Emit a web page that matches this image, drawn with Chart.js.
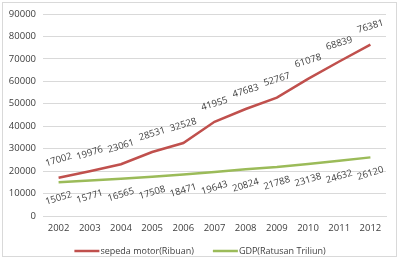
<!DOCTYPE html>
<html>
<head>
<meta charset="utf-8">
<script src="https://cdn.jsdelivr.net/npm/chart.js@4"></script>
<style>
  html, body { margin: 0; padding: 0; background: #fff; }
  #wrap { position: relative; width: 399px; height: 259px; }
  #frame { position: absolute; left: 2px; top: 2px; width: 393px; height: 253px; border: 1px solid #d9d9d9; pointer-events: none; }
</style>
</head>
<body>
<div id="wrap">
  <canvas id="chart" width="399" height="259"></canvas>
  <div id="frame"></div>
</div>
<script>
let years = ["2002", "2003", "2004", "2005", "2006", "2007", "2008", "2009", "2010", "2011", "2012"];
let motor = [17002, 19976, 23061, 28531, 32528, 41955, 47683, 52767, 61078, 68839, 76381];
let gdp = [15052, 15771, 16565, 17508, 18471, 19643, 20824, 21788, 23138, 24632, 26120];
let seriesNames = ["sepeda motor(Ribuan)", "GDP(Ratusan Triliun)"];

let fontName = "'Open Sans', sans-serif";
let fontSize = 9.5;

// draws the rotated value labels like excel does
let valueLabels = {
    id: "valueLabels",
    afterDatasetsDraw(chart) {
        let ctx = chart.ctx;
        chart.data.datasets.forEach((ds, di) => {
            let meta = chart.getDatasetMeta(di);
            let dy = di == 0 ? -18 : 16;
            meta.data.forEach((pt, i) => {
                ctx.save();
                ctx.translate(pt.x, pt.y + dy);
                ctx.rotate(-17 * Math.PI / 180);
                ctx.font = fontSize + "px " + fontName;
                ctx.fillStyle = "#404040";
                ctx.textAlign = "center";
                ctx.textBaseline = "middle";
                ctx.fillText(ds.data[i], 0, 0);
                ctx.restore();
            });
        });
    }
};

// legend at the bottom, line sample then text, centred
let bottomLegend = {
    id: "bottomLegend",
    afterDraw(chart) {
        let ctx = chart.ctx;
        ctx.save();
        ctx.font = "9px " + fontName;
        let items = chart.data.datasets.map(ds => ({ name: ds.label, color: ds.borderColor, w: 26 + ctx.measureText(ds.label).width }));
        let gap = 19;
        let total = items.reduce((s, it) => s + it.w, 0) + gap * (items.length - 1);
        let x = 200 - total / 2;
        let y = 251;
        items.forEach(it => {
            ctx.strokeStyle = it.color;
            ctx.lineWidth = 2.5;
            ctx.beginPath();
            ctx.moveTo(x, y);
            ctx.lineTo(x + 25, y);
            ctx.stroke();
            ctx.fillStyle = "#404040";
            ctx.textBaseline = "middle";
            ctx.fillText(it.name, x + 26, y);
            x += it.w + gap;
        });
        ctx.restore();
    }
};

new Chart("chart", {
    type: "line",
    data: {
        labels: years,
        datasets: [{
            label: seriesNames[0],
            data: motor,
            borderColor: "#c0504d",
            backgroundColor: "#c0504d",
            borderWidth: 2.5,
            pointRadius: 0,
            tension: 0
        }, {
            label: seriesNames[1],
            data: gdp,
            borderColor: "#9bbb59",
            backgroundColor: "#9bbb59",
            borderWidth: 2.5,
            pointRadius: 0,
            tension: 0
        }]
    },
    options: {
        responsive: false,
        animation: false,
        layout: { padding: { top: 14, right: 13, left: 0, bottom: 0 } },
        plugins: {
            legend: { display: false },
            tooltip: { enabled: false }
        },
        scales: {
            x: {
                offset: true,
                grid: { display: false, drawTicks: false },
                border: { color: "#d9d9d9" },
                ticks: { color: "#404040", font: { family: fontName, size: fontSize }, padding: 7, maxRotation: 0 },
                afterFit(scale) { scale.height = 259 - 216; }
            },
            y: {
                min: 0,
                max: 90000,
                ticks: {
                    stepSize: 10000,
                    color: "#404040",
                    font: { family: fontName, size: fontSize },
                    padding: 7,
                    callback: v => String(v)
                },
                grid: { color: "#d9d9d9", drawTicks: false },
                border: { display: false },
                afterFit(scale) { scale.width = 43; }
            }
        }
    },
    plugins: [valueLabels, bottomLegend]
});
</script>
</body>
</html>
